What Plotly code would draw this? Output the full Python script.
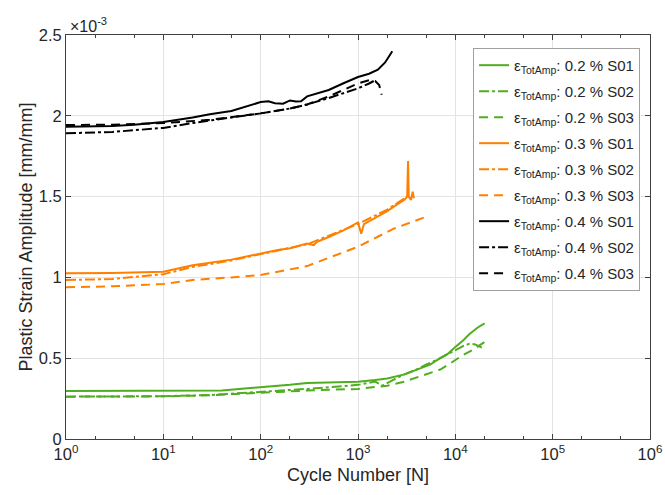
import plotly.graph_objects as go

# ---------------- data (strain in units of 1e-3 mm/mm) ----------------
g1_x = [1, 3, 10, 30, 40, 60, 100, 150, 200, 300, 500, 1000, 1500, 2000, 3000, 4000, 5500, 7000, 8500, 10000, 12000, 14000, 17000, 20000]
g1_y = [0.297, 0.297, 0.297, 0.298, 0.30, 0.31, 0.32, 0.33, 0.335, 0.347, 0.35, 0.355, 0.365, 0.375, 0.40, 0.43, 0.46, 0.50, 0.53, 0.57, 0.61, 0.65, 0.69, 0.715]
g2_x = [1, 3, 10, 30, 50, 100, 150, 300, 500, 800, 1000, 1500, 1800, 2200, 3000, 4000, 5000, 6500, 8000, 10000, 12000, 14000, 16000, 18000, 20000]
g2_y = [0.262, 0.262, 0.265, 0.272, 0.28, 0.29, 0.30, 0.31, 0.32, 0.33, 0.335, 0.355, 0.33, 0.36, 0.40, 0.43, 0.46, 0.49, 0.52, 0.55, 0.575, 0.59, 0.585, 0.57, 0.56]
g3_x = [1, 3, 10, 30, 100, 300, 1000, 1500, 2000, 3000, 4000, 5500, 7000, 8500, 10000, 12000, 15000, 17500, 20000]
g3_y = [0.262, 0.262, 0.264, 0.27, 0.285, 0.30, 0.31, 0.32, 0.33, 0.355, 0.38, 0.41, 0.43, 0.46, 0.49, 0.52, 0.55, 0.575, 0.60]

o1_x = [1, 3, 10, 20, 50, 100, 150, 200, 300, 350, 380, 500, 700, 1000, 1080, 1150, 1500, 2000, 2500, 3000, 3200, 3270, 3320, 3500, 3650, 3750]
o1_y = [1.025, 1.027, 1.035, 1.075, 1.11, 1.15, 1.17, 1.18, 1.21, 1.20, 1.22, 1.25, 1.29, 1.34, 1.27, 1.33, 1.37, 1.41, 1.45, 1.48, 1.50, 1.72, 1.50, 1.48, 1.53, 1.49]
o2_x = [1, 3, 10, 20, 50, 100, 300, 1000, 2000, 3000, 3500]
o2_y = [0.984, 0.99, 1.02, 1.065, 1.105, 1.145, 1.205, 1.33, 1.42, 1.49, 1.52]
o3_x = [1, 3, 10, 20, 50, 100, 300, 1000, 2300, 3500, 4740]
o3_y = [0.939, 0.945, 0.959, 0.984, 1.00, 1.015, 1.07, 1.19, 1.30, 1.34, 1.37]

k1_x = [1, 2, 3, 5, 10, 20, 30, 50, 80, 100, 120, 140, 170, 200, 230, 260, 300, 400, 500, 700, 1000, 1300, 1600, 1900, 2100, 2250]
k1_y = [1.933, 1.935, 1.937, 1.945, 1.962, 1.99, 2.01, 2.03, 2.065, 2.085, 2.09, 2.078, 2.075, 2.095, 2.088, 2.09, 2.12, 2.14, 2.16, 2.20, 2.24, 2.26, 2.285, 2.33, 2.37, 2.40]
k2_x = [1, 3, 10, 20, 50, 100, 200, 300, 500, 1000, 1300, 1500]
k2_y = [1.892, 1.90, 1.925, 1.955, 1.99, 2.015, 2.045, 2.07, 2.11, 2.17, 2.20, 2.22]
k3_x = [1, 3, 10, 30, 100, 200, 300, 500, 1000, 1300, 1500, 1650, 1750]
k3_y = [1.943, 1.945, 1.955, 1.975, 2.015, 2.045, 2.07, 2.12, 2.20, 2.22, 2.215, 2.19, 2.13]

x_tickvals = [1, 10, 100, 1000, 10000, 100000, 1000000]
x_ticktext = ["10<sup>0</sup>", "10<sup>1</sup>", "10<sup>2</sup>", "10<sup>3</sup>",
              "10<sup>4</sup>", "10<sup>5</sup>", "10<sup>6</sup>"]
y_tickvals = [0, 0.5, 1, 1.5, 2, 2.5]
y_ticktext = ["0", "0.5", "1", "1.5", "2", "2.5"]

GREEN = "#4fae1f"
ORANGE = "#ff8000"
BLACK = "#000000"
SOLID = "solid"
DASHDOT = "10px,3px,3px,3px"
DASH = "9px,6px"

series = [
    (g1_x, g1_y, GREEN, SOLID, "0.2 % S01"),
    (g2_x, g2_y, GREEN, DASHDOT, "0.2 % S02"),
    (g3_x, g3_y, GREEN, DASH, "0.2 % S03"),
    (o1_x, o1_y, ORANGE, SOLID, "0.3 % S01"),
    (o2_x, o2_y, ORANGE, DASHDOT, "0.3 % S02"),
    (o3_x, o3_y, ORANGE, DASH, "0.3 % S03"),
    (k1_x, k1_y, BLACK, SOLID, "0.4 % S01"),
    (k2_x, k2_y, BLACK, DASHDOT, "0.4 % S02"),
    (k3_x, k3_y, BLACK, DASH, "0.4 % S03"),
]

FONT = "Liberation Sans, Arial, sans-serif"
TXT = "#262626"
AX = "#404040"

fig = go.Figure()
for i, (xs, ys, col, dash, lab) in enumerate(series):
    fig.add_trace(go.Scatter(
        x=xs, y=ys, mode="lines",
        line=dict(color=col, width=2, dash=dash),
        name="ε<sub>TotAmp</sub>: " + lab,
        legendgroup="g%d" % i,
    ))

fig.update_layout(
    width=665, height=495,
    margin=dict(l=66, r=15, t=35, b=56, pad=0, autoexpand=False),
    paper_bgcolor="white", plot_bgcolor="white",
    font=dict(family=FONT, size=16.5, color=TXT),
    showlegend=True,
    legend=dict(
        x=0.983, y=0.968, xanchor="right", yanchor="top",
        bgcolor="white", bordercolor="#a0a0a0", borderwidth=1,
        font=dict(family=FONT, size=15, color=TXT),
        tracegroupgap=3.5, itemwidth=30,
    ),
    xaxis=dict(
        type="log", range=[0, 6], automargin=False,
        tickvals=x_tickvals, ticktext=x_ticktext,
        ticks="inside", ticklen=5, tickcolor=AX,
        showline=True, linecolor=AX, linewidth=1, mirror="ticks",
        showgrid=True, gridcolor="#e3e3e3", gridwidth=1,
        zeroline=False,
        minor=dict(ticks="inside", ticklen=3, tickcolor=AX, showgrid=False),
        title=dict(text="Cycle Number [N]", font=dict(size=18, color=TXT), standoff=6),
        tickfont=dict(size=16.5, color=TXT),
    ),
    yaxis=dict(
        range=[0, 2.5], automargin=False,
        tickvals=y_tickvals, ticktext=y_ticktext,
        ticks="inside", ticklen=5, tickcolor=AX,
        showline=True, linecolor=AX, linewidth=1, mirror="ticks",
        showgrid=True, gridcolor="#e3e3e3", gridwidth=1,
        zeroline=False,
        title=dict(text="Plastic Strain Amplitude [mm/mm]", font=dict(size=18, color=TXT), standoff=1),
        tickfont=dict(size=16.5, color=TXT),
    ),
    annotations=[dict(
        text="×10<sup>-3</sup>", xref="paper", yref="paper",
        x=0, y=1, xanchor="left", yanchor="bottom", xshift=2, yshift=-2,
        showarrow=False, font=dict(family=FONT, size=16, color=TXT),
    )],
)

fig.write_html(
    "out.html",
    config={"displayModeBar": False},
    post_script="document.body.style.margin='0';document.body.style.overflow='hidden';",
)
